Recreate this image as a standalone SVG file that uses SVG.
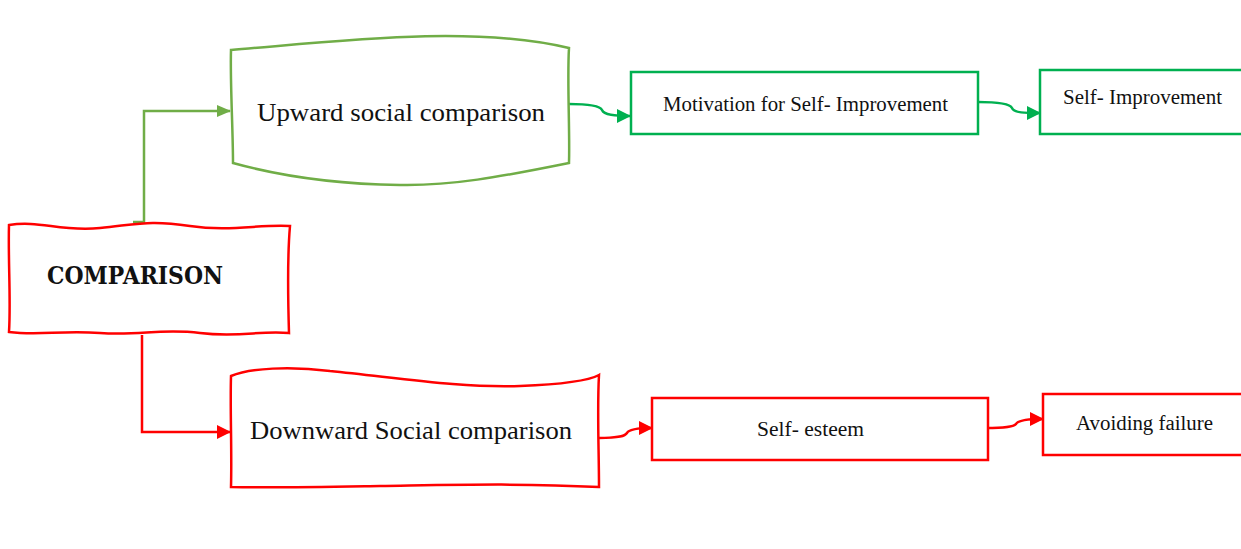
<svg xmlns="http://www.w3.org/2000/svg" width="1241" height="549" viewBox="0 0 1241 549">
<defs>
<style>
.t{font-family:"Liberation Serif","Times New Roman",serif;fill:#111}
.g{fill:none;stroke:#70AD47;stroke-width:2.5}
.gg{fill:none;stroke:#00B050;stroke-width:2.5}
.r{fill:none;stroke:#FF0000;stroke-width:2.5}
.box{fill:#fff}
</style>
<marker id="ag" markerWidth="14" markerHeight="12" refX="13" refY="6" orient="auto" markerUnits="userSpaceOnUse"><path d="M0,0 L14,6 L0,12 z" fill="#70AD47"/></marker>
<marker id="agg" markerWidth="14" markerHeight="14" refX="13" refY="7" orient="auto" markerUnits="userSpaceOnUse"><path d="M0,0 L14,7 L0,14 z" fill="#00B050"/></marker>
<marker id="ar" markerWidth="14" markerHeight="14" refX="13" refY="7" orient="auto" markerUnits="userSpaceOnUse"><path d="M0,0 L14,7 L0,14 z" fill="#FF0000"/></marker>
</defs>
<rect width="1241" height="549" fill="#fff"/>
<g id="connectors">
<path class="g" d="M133,222 H144 V111 H230" marker-end="url(#ag)"/>
<path class="gg" d="M569,104 C590,104 600,106 602,110 C604,115 615,116 630,116" marker-end="url(#agg)"/>
<path class="gg" d="M978,102 C1000,102 1010,104 1012,108 C1014,113 1025,113 1040,113" marker-end="url(#agg)"/>
<path class="r" d="M142,335 V432 H230" marker-end="url(#ar)"/>
<path class="r" d="M599,438 C620,438 625,436 627,433 C629,429 640,428 652,428" marker-end="url(#ar)"/>
<path class="r" d="M986,428 C1005,428 1014,427 1016,424 C1018,420 1030,419 1043,419" marker-end="url(#ar)"/>
</g>
<g id="comparison">
<path class="r box" d="M9,225 C40,220 60,232 100,228 C140,224 150,220 190,226 C230,232 260,224 290,226 C287,260 288,300 289,333 C260,330 240,338 200,333 C160,328 140,336 100,333 C60,330 40,336 9,332 C11,300 8,260 9,225 Z"/>
<text class="t" x="47" y="284" font-size="24" font-weight="bold" textLength="176" lengthAdjust="spacingAndGlyphs" style="font-family:'DejaVu Serif',serif">COMPARISON</text>
</g>
<g id="upward">
<path class="g box" d="M231,50 C330,42 470,24 569,48 C567,80 570,130 569,163 C500,177 450,186 400,185 C330,184 280,176 233,163 C233,130 230,80 231,50 Z"/>
<text class="t" x="257" y="121" font-size="26" textLength="288" lengthAdjust="spacingAndGlyphs">Upward social comparison</text>
</g>
<g id="motivation">
<rect class="gg box" x="631" y="72" width="347" height="62"/>
<text class="t" x="663" y="111" font-size="20" textLength="285" lengthAdjust="spacingAndGlyphs">Motivation for Self- Improvement</text>
</g>
<g id="selfimprovement">
<rect class="gg box" x="1040" y="70" width="210" height="64"/>
<text class="t" x="1063" y="104" font-size="20" textLength="159" lengthAdjust="spacingAndGlyphs">Self- Improvement</text>
</g>
<g id="downward">
<path class="r box" d="M231,376 C250,368 290,366 330,371 C400,378 460,388 520,386 C570,384 590,380 599,375 C597,410 599,450 599,487 C520,483 450,485 380,486 C320,487 270,488 231,487 C232,450 230,410 231,376 Z"/>
<text class="t" x="250" y="439" font-size="26" textLength="322" lengthAdjust="spacingAndGlyphs">Downward Social comparison</text>
</g>
<g id="selfesteem">
<rect class="r box" x="652" y="398" width="336" height="62"/>
<text class="t" x="757" y="436" font-size="20" textLength="107" lengthAdjust="spacingAndGlyphs">Self- esteem</text>
</g>
<g id="avoiding">
<rect class="r box" x="1043" y="394" width="210" height="61"/>
<text class="t" x="1076" y="430" font-size="20" textLength="137" lengthAdjust="spacingAndGlyphs">Avoiding failure</text>
</g>
</svg>
